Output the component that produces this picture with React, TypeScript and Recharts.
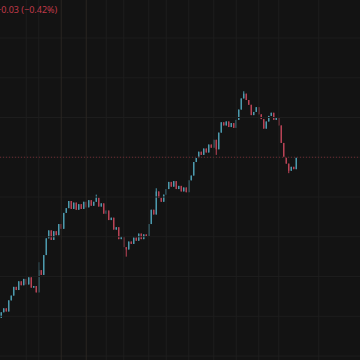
import React from 'react';
import { ComposedChart, Bar, XAxis, YAxis, ReferenceLine } from 'recharts';

// closing prices, one per candle left to right
const closes = [
  7.005, 7.010, 7.006, 7.020, 7.026, 7.037, 7.033, 7.044, 7.039, 7.047,
  7.040, 7.049, 7.036, 7.038, 7.030, 7.058, 7.052, 7.077, 7.098, 7.108,
  7.096, 7.107, 7.102, 7.116, 7.110, 7.130, 7.136, 7.145, 7.135, 7.143,
  7.134, 7.141, 7.135, 7.144, 7.137, 7.146, 7.139, 7.144, 7.149, 7.138,
  7.142, 7.129, 7.133, 7.121, 7.124, 7.109, 7.112, 7.097, 7.100, 7.087,
  7.084, 7.094, 7.091, 7.099, 7.095, 7.104, 7.097, 7.103, 7.101, 7.116,
  7.134, 7.128, 7.157, 7.149, 7.144, 7.153, 7.160, 7.169, 7.163, 7.170,
  7.160, 7.164, 7.157, 7.162, 7.156, 7.171, 7.177, 7.194, 7.199, 7.207,
  7.203, 7.211, 7.206, 7.216, 7.212, 7.222, 7.210, 7.231, 7.244, 7.240,
  7.245, 7.238, 7.243, 7.237, 7.247, 7.260, 7.274, 7.280, 7.272, 7.266,
  7.253, 7.257, 7.263, 7.254, 7.248, 7.236, 7.245, 7.252, 7.256, 7.247,
  7.250, 7.240, 7.218, 7.200, 7.192, 7.183, 7.188, 7.185, 7.200,
];
const firstOpen = 6.998;

// wicks that stick out past the body
const spikes = [
  { i: 15, high: 7.068 },
  { i: 17, low: 7.058 },
  { i: 38, high: 7.153 },
  { i: 50, low: 7.075 },
  { i: 62, high: 7.161 },
  { i: 86, low: 7.203 },
  { i: 97, high: 7.283 },
  { i: 115, low: 7.180 },
];

const priceGrid = [7.35, 7.3, 7.25, 7.2, 7.15, 7.1, 7.05, 7.0, 6.95];
const timeGrid = [10, 15, 24, 34, 42, 49, 59, 66, 75, 85, 94, 103, 111, 127];
const majorTime = [24, 34];
const changeLabel = '\u22120.03 (\u22120.42%)';

const SLOTS = 144;
const DMIN = 6.945;
const DMAX = 7.3978;
const H = 360;
const UP = '#4f9fb4';
const DOWN = '#bf4558';

const data = Array.from({ length: SLOTS }, (_, i) => {
  if (i >= closes.length) return { i, range: null };
  const open = i === 0 ? firstOpen : closes[i - 1];
  const close = closes[i];
  const s: any = spikes.find((p) => p.i === i);
  const high = Math.max(open, close, s && s.high ? s.high : 0);
  const low = Math.min(open, close, s && s.low ? s.low : 99);
  return { i, open, close, high, low, range: [low, high] };
});

const py = (v: number) => ((DMAX - v) * H) / (DMAX - DMIN);

const Candle = (props: any) => {
  const { x, width, payload } = props;
  if (!payload || payload.range == null) return <g />;
  const cx = x + width / 2;
  const color = payload.close >= payload.open ? UP : DOWN;
  const top = py(Math.max(payload.open, payload.close));
  const bot = py(Math.min(payload.open, payload.close));
  return (
    <g>
      <line x1={cx} x2={cx} y1={py(payload.high)} y2={py(payload.low)} stroke={color} strokeWidth={1} />
      <rect x={cx - 0.6} y={top} width={1.2} height={Math.max(1, bot - top)} fill={color} />
    </g>
  );
};

export default function App() {
  const last = closes[closes.length - 1];
  return (
    <div style={{ position: 'fixed', left: 0, top: 0, width: 360, height: 360, background: '#131313', overflow: 'hidden' }}>
      <ComposedChart width={360} height={360} data={data} margin={{ top: 0, right: 0, bottom: 0, left: 0 }}>
        <XAxis dataKey="i" hide />
        <YAxis hide domain={[DMIN, DMAX]} allowDataOverflow />
        {priceGrid.map((p) => (
          <ReferenceLine key={'h' + p} y={p} stroke="#1d1d1d" strokeWidth={1} />
        ))}
        {timeGrid.map((t) => (
          <ReferenceLine
            key={'v' + t}
            x={t}
            stroke={majorTime.includes(t) ? '#2a2622' : '#1e1e1e'}
            strokeWidth={1}
          />
        ))}
        <ReferenceLine y={last} stroke="#6e2a30" strokeDasharray="1 2" />
        <Bar dataKey="range" shape={<Candle />} isAnimationActive={false} />
      </ComposedChart>
      <div
        style={{
          position: 'absolute',
          left: -4,
          top: 3,
          fontFamily: '"Noto Sans", sans-serif',
          fontSize: 9,
          color: '#c03a4a',
          whiteSpace: 'nowrap',
        }}
      >
        {changeLabel}
      </div>
    </div>
  );
}
